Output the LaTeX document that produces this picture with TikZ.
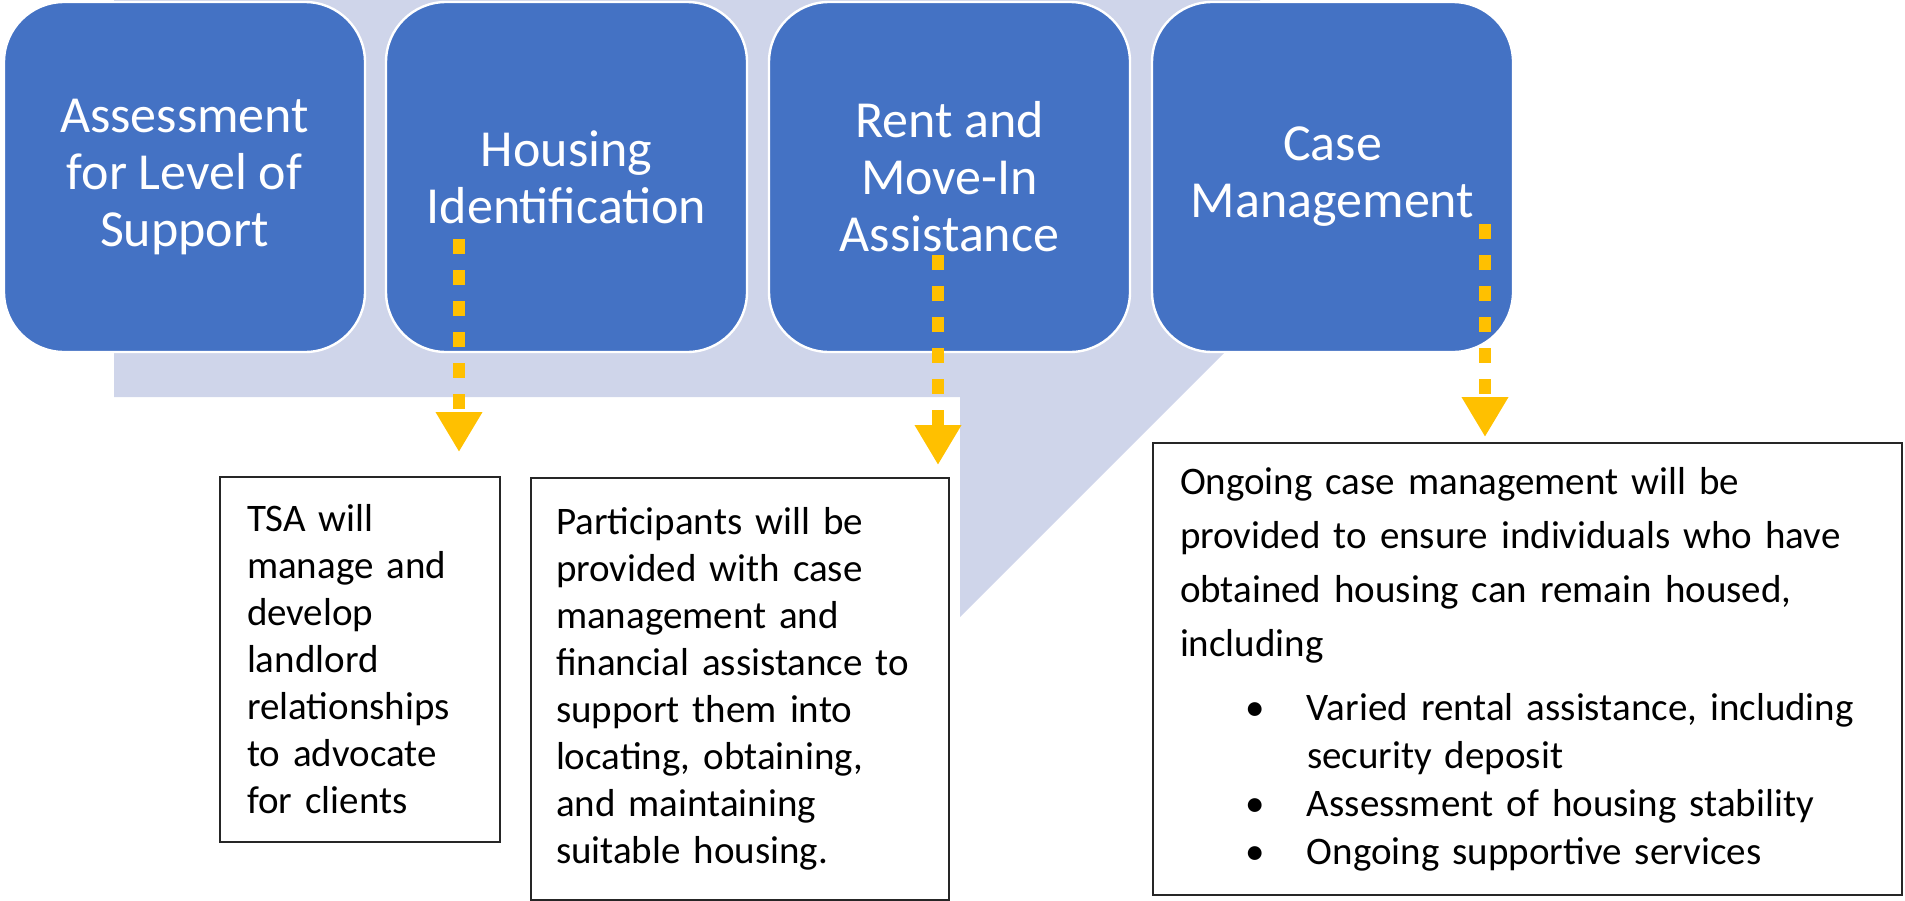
\documentclass[tikz,border=0pt]{standalone}
\usepackage{fontspec}
\setmainfont{Carlito}
\usetikzlibrary{arrows.meta}
\definecolor{stageblue}{HTML}{4472C4}
\definecolor{bandlav}{HTML}{CFD5EA}
\definecolor{arrowgold}{HTML}{FFC000}
\def\bul{\hspace*{32.5pt}\makebox[31pt][l]{\textbullet}}

\begin{document}
\begin{tikzpicture}[x=0.5pt, y=-0.5pt,
  stage/.style={rounded corners=30pt, fill=stageblue, draw=white, line width=1.2pt,
    minimum width=180.5pt, minimum height=175pt, text=white, align=center,
    font=\fontsize{26}{28.5}\selectfont},
  note/.style={draw=black!85, line width=1pt, anchor=north west, align=left,
    inner xsep=13.5pt, font=\fontsize{19.5}{23.5}\selectfont},
  goldarrow/.style={arrowgold, line width=6pt, dash pattern=on 7.5pt off 8pt,
    -{Triangle[width=22pt,length=20pt]}}]
\useasboundingbox (0,0) rectangle (1905,900);
% band behind the stages
\fill[bandlav] (114,0) -- (114,397) -- (960,397) -- (960,617) -- (1260,317) -- (1260,0) -- cycle;
% stages
\node[stage] (assess) at (184.5,177) {Assessment\\for Level of\\Support};
\node[stage] (housing) at (566.5,177) {Housing\\Identification};
\node[stage] (rent) at (949.5,177) {Rent and\\Move-In\\Assistance};
\node[stage] (casemgmt) at (1332.5,177) {Case\\Management};
% notes
\node[note, text width=113pt, minimum height=182.5pt] (tsa) at (219,476)
  {TSA will\\manage and\\develop\\landlord\\relationships\\to advocate\\for clients};
\node[note, inner xsep=12.5pt, text width=184pt, minimum height=211pt] (partic) at (530,477)
  {Participants will be\\provided with case\\management and\\financial assistance to\\support them into\\locating, obtaining,\\and maintaining\\suitable housing.};
\node[note, text width=347.5pt, minimum height=226pt, font=\fontsize{19.5}{24}\selectfont] (ongoing) at (1152,442)
  {Ongoing case management will be\\[3pt]
   provided to ensure individuals who have\\[3pt]
   obtained housing can remain housed,\\[3pt]
   including\\[8pt]
   \bul Varied rental assistance, including\\
   \hspace*{63.5pt}security deposit\\
   \bul Assessment of housing stability\\
   \bul Ongoing supportive services};
% dotted arrows
\coordinate (h1) at (459,239); \coordinate (h2) at (459,452);
\coordinate (r1) at (938,255); \coordinate (r2) at (938,465);
\coordinate (c1) at (1485,224); \coordinate (c2) at (1485,437);
\draw[goldarrow] (h1) -- (h2);
\draw[goldarrow] (r1) -- (r2);
\draw[goldarrow] (c1) -- (c2);
\end{tikzpicture}
\end{document}
